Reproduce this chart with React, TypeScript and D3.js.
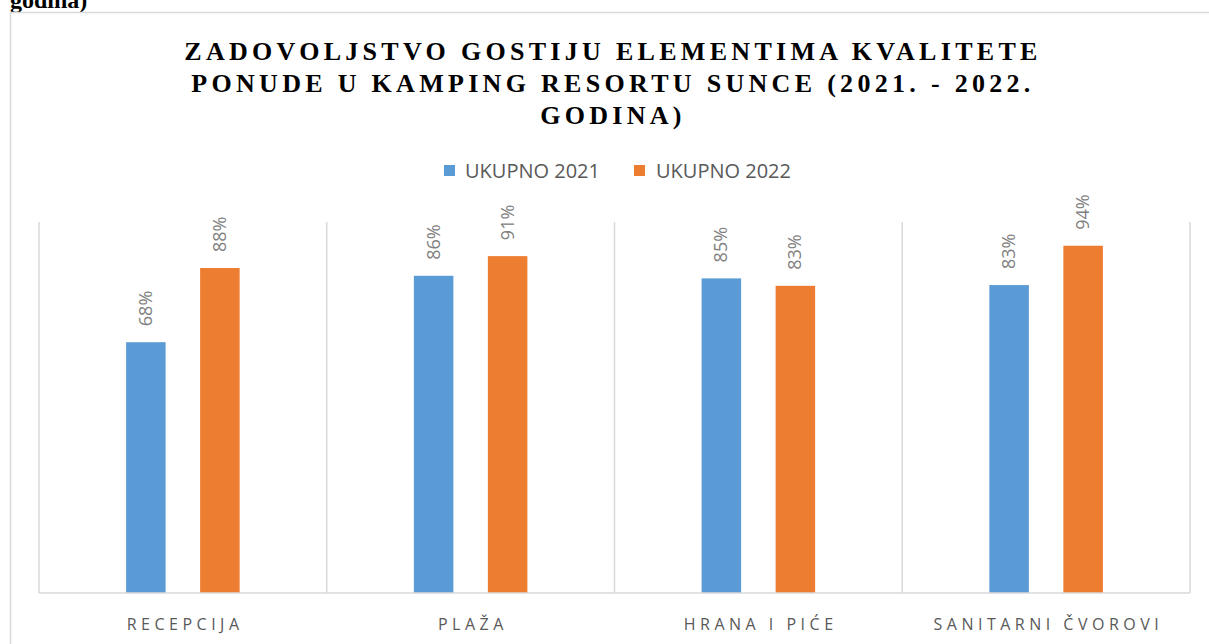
import React from "react";
import * as d3 from "d3";

const categories = ["RECEPCIJA", "PLAŽA", "HRANA I PIĆE", "SANITARNI ČVOROVI"];
const seriesNames = ["UKUPNO 2021", "UKUPNO 2022"];
const values2021 = [0.676, 0.855, 0.848, 0.83];
const values2022 = [0.876, 0.908, 0.828, 0.936];
const colors = ["#5b9bd5", "#ed7d31"];
const titleLines = [
  "ZADOVOLJSTVO GOSTIJU ELEMENTIMA KVALITETE",
  "PONUDE U KAMPING RESORTU SUNCE (2021. - 2022.",
  "GODINA)",
];

const W = 1209;
const H = 644;
const margin = { left: 39, right: 19, top: 222, bottom: 51 };

const App = () => {
  const x0 = d3
    .scaleBand()
    .domain(categories)
    .range([margin.left, W - margin.right])
    .paddingInner(0)
    .paddingOuter(0);

  const x1 = d3
    .scaleBand()
    .domain(seriesNames)
    .range([0, x0.bandwidth()])
    .paddingInner(0.466)
    .paddingOuter(1.177);

  const y = d3
    .scaleLinear()
    .domain([0, 1])
    .range([H - margin.bottom, margin.top]);

  const data = categories.map((c, i) => ({
    cat: c,
    vals: [values2021[i], values2022[i]],
  }));

  const gridX = categories.map(c => x0(c)).concat([x0.range()[1]]);
  const fmt = d3.format(".0%");

  return (
    <svg
      width={W}
      height={H}
      style={{ position: "absolute", left: 0, top: 0, background: "#fff" }}
    >
      <text
        x={10}
        y={8}
        fontFamily="'Liberation Serif', 'Times New Roman', serif"
        fontWeight="bold"
        fontSize={24}
        fill="#000"
      >
        godina)
      </text>
      <line x1={10} x2={W} y1={12.5} y2={12.5} stroke="#d9d9d9" strokeWidth={1.5} />
      <line x1={10.5} x2={10.5} y1={12} y2={H} stroke="#d9d9d9" strokeWidth={1.5} />

      {titleLines.map((t, i) => (
        <text
          key={i}
          x={613}
          y={60 + i * 32}
          textAnchor="middle"
          fontFamily="'Liberation Serif', 'Times New Roman', serif"
          fontWeight="bold"
          fontSize={26}
          letterSpacing={4.3}
          fill="#000"
        >
          {t}
        </text>
      ))}

      <g fontFamily="'Open Sans', Calibri, sans-serif" fontSize={20} fill="#595959">
        <rect x={444} y={165} width={11} height={11} fill={colors[0]} />
        <text x={465} y={178}>{seriesNames[0]}</text>
        <rect x={634} y={165} width={11} height={11} fill={colors[1]} />
        <text x={656} y={178}>{seriesNames[1]}</text>
      </g>

      {gridX.map((gx, i) => (
        <line
          key={i}
          x1={gx}
          x2={gx}
          y1={y(1)}
          y2={y(0)}
          stroke="#d9d9d9"
          strokeWidth={1.5}
        />
      ))}

      {data.map(d => (
        <g key={d.cat} transform={`translate(${x0(d.cat)},0)`}>
          {d.vals.map((v, j) => {
            const bx = x1(seriesNames[j]);
            const cx = bx + x1.bandwidth() / 2;
            return (
              <g key={j}>
                <rect
                  x={bx}
                  y={y(v)}
                  width={x1.bandwidth()}
                  height={y(0) - y(v)}
                  fill={colors[j]}
                />
                <text
                  transform={`translate(${cx + 6},${y(v) - 16}) rotate(-90)`}
                  fontFamily="'Open Sans', Calibri, sans-serif"
                  fontSize={18}
                  fill="#808080"
                >
                  {fmt(v)}
                </text>
              </g>
            );
          })}
        </g>
      ))}

      <line
        x1={x0.range()[0]}
        x2={x0.range()[1]}
        y1={y(0)}
        y2={y(0)}
        stroke="#d9d9d9"
        strokeWidth={1.5}
      />

      {categories.map(c => (
        <text
          key={c}
          x={x0(c) + x0.bandwidth() / 2 + 2.25}
          y={630}
          textAnchor="middle"
          fontFamily="'Open Sans', Calibri, sans-serif"
          fontSize={16}
          letterSpacing={4.5}
          fill="#595959"
        >
          {c}
        </text>
      ))}
    </svg>
  );
};

export default App;
